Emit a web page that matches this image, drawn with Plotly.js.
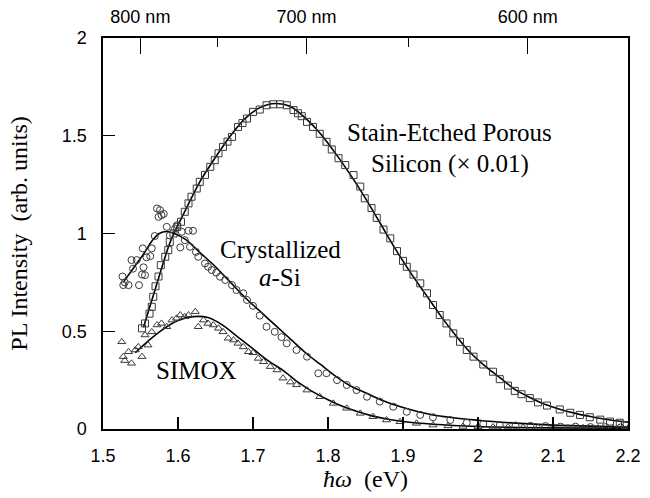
<!DOCTYPE html>
<html>
<head>
<meta charset="utf-8">
<script src="https://cdn.plot.ly/plotly-3.0.1.min.js"></script>
<style>html,body{margin:0;padding:0;background:#fff;}#chart{width:650px;height:498px;}</style>
</head>
<body>
<div id="chart"></div>
<script>
// ---- Data ----
const porousX = [1.552,1.556,1.562,1.565,1.567,1.570,1.574,1.577,1.583,1.587,1.589,1.594,1.599,1.604,1.609,1.614,1.618,1.625,1.629,1.636,1.643,1.649,1.654,1.660,1.666,1.672,1.680,1.686,1.692,1.700,1.709,1.718,1.727,1.736,1.745,1.754,1.760,1.765,1.772,1.780,1.789,1.798,1.805,1.814,1.823,1.834,1.843,1.849,1.858,1.865,1.874,1.883,1.892,1.900,1.905,1.914,1.923,1.932,1.940,1.949,1.958,1.967,1.976,1.985,1.994,2.007,2.020,2.029,2.040,2.049,2.058,2.069,2.080,2.092,2.109,2.123,2.136,2.149,2.163,2.176,2.189,2.196];
const porousY = [0.515,0.54,0.59,0.625,0.676,0.73,0.78,0.838,0.881,0.915,0.957,1.0,1.034,1.06,1.111,1.154,1.188,1.23,1.264,1.30,1.341,1.375,1.41,1.443,1.47,1.494,1.545,1.565,1.588,1.622,1.634,1.656,1.661,1.661,1.656,1.631,1.615,1.60,1.571,1.545,1.51,1.469,1.43,1.385,1.35,1.299,1.24,1.18,1.13,1.08,1.02,0.975,0.91,0.86,0.83,0.79,0.745,0.694,0.634,0.583,0.54,0.489,0.446,0.404,0.37,0.33,0.293,0.255,0.222,0.195,0.178,0.158,0.136,0.12,0.10,0.083,0.072,0.06,0.048,0.038,0.032,0.02];
const porousFitX = [1.554,1.57,1.59,1.61,1.63,1.65,1.67,1.69,1.71,1.73,1.75,1.77,1.79,1.81,1.83,1.85,1.87,1.89,1.91,1.93,1.95,1.97,1.99,2.01,2.03,2.05,2.07,2.09,2.11,2.13,2.15,2.17,2.2];
const porousFitY = [0.52,0.72,0.96,1.12,1.27,1.39,1.5,1.59,1.645,1.665,1.65,1.59,1.51,1.41,1.30,1.18,1.05,0.92,0.8,0.69,0.58,0.48,0.39,0.32,0.26,0.2,0.16,0.125,0.1,0.08,0.064,0.05,0.035];

const asiX = [1.526,1.527,1.529,1.534,1.538,1.540,1.545,1.548,1.552,1.553,1.554,1.556,1.558,1.563,1.565,1.569,1.572,1.574,1.576,1.578,1.581,1.585,1.589,1.596,1.599,1.603,1.605,1.609,1.614,1.616,1.620,1.624,1.627,1.636,1.640,1.645,1.651,1.656,1.663,1.672,1.678,1.687,1.692,1.700,1.709,1.718,1.729,1.738,1.745,1.758,1.772,1.787,1.798,1.812,1.825,1.838,1.852,1.869,1.887,1.905,1.923,1.940,1.963,1.985,2.007,2.029,2.05,2.07,2.09,2.11,2.13,2.15,2.17,2.19];
const asiY = [0.78,0.736,0.75,0.736,0.864,0.82,0.864,0.736,0.79,0.924,0.827,0.787,0.878,0.884,0.924,0.987,1.128,1.085,1.12,1.094,1.10,1.034,0.99,1.026,1.043,0.929,1.009,0.966,1.014,0.932,1.014,0.906,0.881,0.847,0.83,0.813,0.80,0.779,0.762,0.736,0.711,0.694,0.66,0.63,0.58,0.523,0.497,0.47,0.438,0.404,0.37,0.285,0.285,0.25,0.225,0.199,0.165,0.14,0.114,0.088,0.072,0.06,0.046,0.032,0.026,0.02,0.018,0.016,0.015,0.012,0.012,0.01,0.01,0.008];
const asiFitX = [1.527,1.54,1.555,1.565,1.575,1.585,1.595,1.61,1.63,1.65,1.67,1.69,1.71,1.73,1.75,1.77,1.79,1.81,1.83,1.85,1.87,1.9,1.94,2.0,2.05,2.1,2.2];
const asiFitY = [0.75,0.82,0.9,0.96,1.0,1.01,1.0,0.97,0.9,0.83,0.75,0.67,0.6,0.53,0.46,0.39,0.33,0.27,0.22,0.185,0.15,0.11,0.072,0.045,0.03,0.02,0.01];

const simoxX = [1.525,1.527,1.529,1.534,1.538,1.543,1.547,1.552,1.556,1.560,1.565,1.572,1.578,1.585,1.592,1.598,1.603,1.609,1.614,1.623,1.627,1.634,1.640,1.647,1.654,1.660,1.667,1.674,1.680,1.687,1.694,1.700,1.707,1.714,1.723,1.732,1.740,1.750,1.758,1.772,1.789,1.807,1.825,1.843,1.860,1.878,1.896,1.918,1.940,1.96,1.98,2.0,2.02,2.04,2.06,2.08,2.1,2.12,2.14,2.16,2.18,2.2];
const simoxY = [0.446,0.37,0.35,0.395,0.336,0.404,0.42,0.37,0.481,0.429,0.497,0.532,0.54,0.523,0.557,0.566,0.583,0.574,0.583,0.60,0.523,0.557,0.54,0.532,0.515,0.497,0.464,0.455,0.438,0.42,0.395,0.39,0.361,0.344,0.319,0.302,0.26,0.24,0.226,0.199,0.165,0.131,0.106,0.08,0.063,0.046,0.037,0.029,0.02,0.016,0.013,0.012,0.01,0.01,0.008,0.008,0.007,0.006,0.006,0.005,0.005,0.004];
const simoxFitX = [1.543,1.56,1.58,1.6,1.62,1.64,1.66,1.68,1.7,1.72,1.74,1.76,1.78,1.8,1.82,1.84,1.86,1.88,1.9,1.94,2.0,2.1,2.2];
const simoxFitY = [0.39,0.45,0.51,0.555,0.575,0.57,0.53,0.47,0.41,0.35,0.3,0.24,0.19,0.15,0.115,0.088,0.066,0.05,0.038,0.024,0.013,0.006,0.004];

const xTickVals = [1.5,1.6,1.7,1.8,1.9,2.0,2.1,2.2];
const xTickText = ["1.5","1.6","1.7","1.8","1.9","2","2.1","2.2"];
const yTickVals = [0,0.5,1,1.5,2];
const yTickText = ["0","0.5","1","1.5","2"];
const nmMajor = [800,700,600];
const nmMajorText = ["800 nm","700 nm","600 nm"];
const nmMinor = [750,650];
const HC = 1239.84; // eV·nm

const markerLine = '#3a3a3a';
function pts(x, y, sym){
  return {x:x, y:y, type:'scatter', mode:'markers', showlegend:false, hoverinfo:'skip',
    marker:{symbol:sym, size:7, color:markerLine, line:{color:markerLine, width:1}}};
}
function fit(x, y){
  return {x:x, y:y, type:'scatter', mode:'lines', showlegend:false, hoverinfo:'skip',
    line:{color:'#000', width:1.6, shape:'spline', smoothing:0.8}};
}
function dummy(xa, ya){
  return {x:[1.5], y:[null], xaxis:xa, yaxis:ya, type:'scatter', mode:'markers', showlegend:false, hoverinfo:'skip'};
}

const traces = [
  fit(porousFitX, porousFitY),
  fit(asiFitX, asiFitY),
  fit(simoxFitX, simoxFitY),
  pts(porousX, porousY, 'square-open'),
  pts(asiX, asiY, 'circle-open'),
  pts(simoxX, simoxY, 'triangle-up-open'),
  dummy('x2','y'), dummy('x3','y')
];

const tickFont = {family:'"Liberation Sans", Arial, sans-serif', size:18, color:'#000'};
const serif = '"Liberation Serif", "Times New Roman", serif';
const TW = 1.2, TC = '#000';

const layout = {
  width:650, height:498,
  margin:{l:103, r:22, t:38, b:69},
  paper_bgcolor:'#fff', plot_bgcolor:'#fff',
  showlegend:false,
  xaxis:{range:[1.5,2.2], tickmode:'array', tickvals:xTickVals, ticktext:xTickText,
    ticks:'inside', ticklen:12, tickwidth:TW, tickcolor:TC,
    showline:true, linecolor:'#000', linewidth:1.6, mirror:true,
    showgrid:false, zeroline:false, tickfont:tickFont, ticklabelstandoff:10,
    title:{text:'<i>ħω</i>  (eV)', font:{family:serif, size:24, color:'#000'}, standoff:0}},
  xaxis2:{range:[1.5,2.2], overlaying:'x', side:'top', anchor:'y',
    tickmode:'array', tickvals:nmMajor.map(v=>HC/v), ticktext:nmMajorText,
    ticks:'inside', ticklen:16, tickwidth:TW, tickcolor:TC,
    showline:false, showgrid:false, zeroline:false, tickfont:tickFont, ticklabelstandoff:10},
  xaxis3:{range:[1.5,2.2], overlaying:'x', side:'top', anchor:'y',
    tickmode:'array', tickvals:nmMinor.map(v=>HC/v), showticklabels:false,
    ticks:'inside', ticklen:9, tickwidth:TW, tickcolor:TC,
    showline:false, showgrid:false, zeroline:false},
  yaxis:{range:[0,2], tickmode:'array', tickvals:yTickVals, ticktext:yTickText,
    ticks:'inside', ticklen:12, tickwidth:TW, tickcolor:TC,
    showline:true, linecolor:'#000', linewidth:1.6, mirror:true,
    showgrid:false, zeroline:false, tickfont:tickFont, ticklabelstandoff:11,
    title:{text:'PL Intensity  (arb. units)', font:{family:serif, size:24, color:'#000'}, standoff:27}},
  annotations:[
    {x:1.962, y:1.518, xref:'x', yref:'y', text:'Stain-Etched Porous', showarrow:false, font:{family:serif, size:25, color:'#000'}},
    {x:1.962, y:1.355, xref:'x', yref:'y', text:'Silicon (× 0.01)', showarrow:false, font:{family:serif, size:25, color:'#000'}},
    {x:1.736, y:0.92, xref:'x', yref:'y', text:'Crystallized', showarrow:false, font:{family:serif, size:25, color:'#000'}},
    {x:1.736, y:0.775, xref:'x', yref:'y', text:'<i>a</i>-Si', showarrow:false, font:{family:serif, size:25, color:'#000'}},
    {x:1.624, y:0.30, xref:'x', yref:'y', text:'SIMOX', showarrow:false, font:{family:serif, size:25, color:'#000'}}
  ]
};

Plotly.newPlot('chart', traces, layout, {staticPlot:true, displayModeBar:false});
</script>
</body>
</html>
